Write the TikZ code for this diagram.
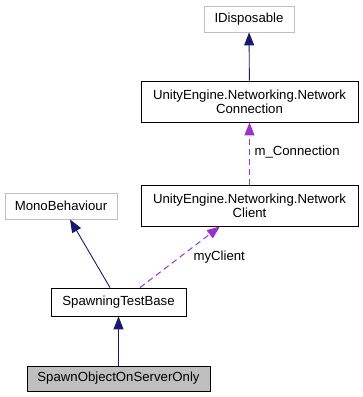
\documentclass[tikz,border=0pt]{standalone}
\usepackage{fontspec}
\setmainfont{Liberation Sans}
\usetikzlibrary{positioning,arrows.meta}

\definecolor{edgeblue}{HTML}{191970}
\definecolor{edgepurple}{HTML}{9A32CD}
\definecolor{boxgray}{HTML}{BFBFBF}

\begin{document}
\begin{tikzpicture}[
        x=1pt, y=-1pt,
        font=\fontsize{13.2}{14}\selectfont,
        class_node/.style={draw=black, line width=0.8pt, inner sep=0pt, align=center},
        ext_node/.style={draw=boxgray, line width=0.8pt, inner sep=0pt, align=center},
        inherit_edge/.style={draw=edgeblue, line width=0.9pt, -{Triangle[length=13pt,width=10pt]}},
        usage_edge/.style={draw=edgepurple, line width=1pt, dash pattern=on 6pt off 4pt, -{Triangle[length=13pt,width=10pt]}}
    ]

    \useasboundingbox (0,0) rectangle (363,397);

    % Classes
    \node[ext_node, minimum width=90pt, minimum height=26pt] (disposable) at (249,19) {IDisposable};
    \node[class_node, minimum width=217pt, minimum height=41pt] (connection) at (249.5,101.5) {UnityEngine.Networking.Network\\Connection};
    \node[class_node, minimum width=217pt, minimum height=41pt] (client) at (249.5,205.5) {UnityEngine.Networking.Network\\Client};
    \node[ext_node, minimum width=112pt, minimum height=26pt] (mono) at (61,206) {MonoBehaviour};
    \node[class_node, minimum width=135pt, minimum height=28pt] (base) at (118.5,302) {SpawningTestBase};
    \node[class_node, fill=boxgray, minimum width=183pt, minimum height=25pt] (spawnonly) at (118.5,378.5) {SpawnObjectOnServerOnly};

    % Inheritance
    \draw[inherit_edge] (connection) -- (disposable);
    \draw[inherit_edge] ([xshift=-8.5pt]base.north) -- ([xshift=9pt]mono.south);
    \draw[inherit_edge] (spawnonly) -- (base);

    % Members
    \draw[usage_edge] (client) -- (connection);
    \draw[usage_edge] ([xshift=21.5pt]base.north) -- ([xshift=-29.5pt]client.south);
    \node[anchor=west] (connlabel) at (251,152) {m\_Connection};
    \node[anchor=west] (clientlabel) at (190,257) {myClient};

\end{tikzpicture}
\end{document}
